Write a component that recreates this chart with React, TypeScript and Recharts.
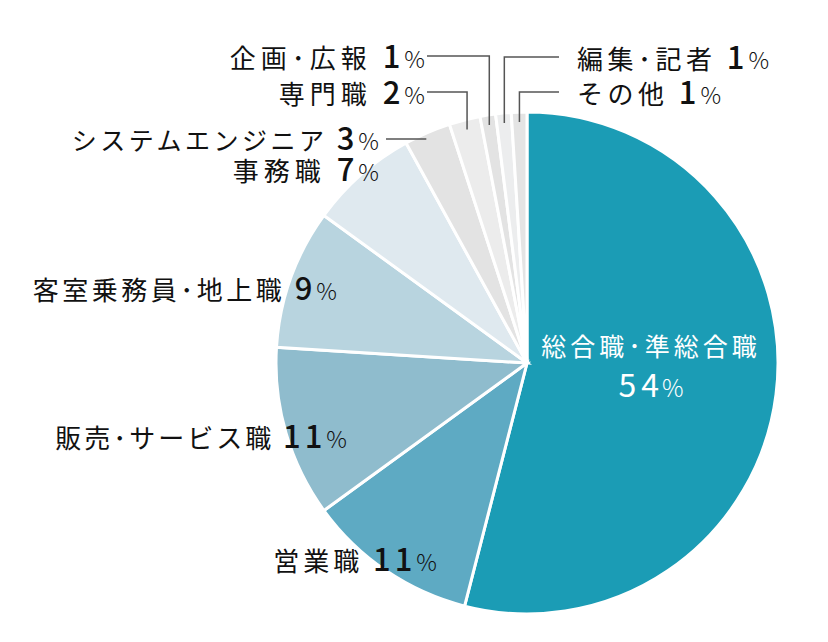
import React from "react";
import { PieChart, Pie, Cell } from "recharts";

const categories = [
  "総合職･準総合職",
  "営業職",
  "販売･サービス職",
  "客室乗務員･地上職",
  "事務職",
  "システムエンジニア",
  "専門職",
  "企画･広報",
  "編集･記者",
  "その他",
];
const values = [54, 11, 11, 9, 7, 3, 2, 1, 1, 1];
const colors = [
  "#1b9cb5",
  "#5eaac3",
  "#8fbccd",
  "#b8d4df",
  "#dfe9ef",
  "#e3e3e3",
  "#ececec",
  "#e3e3e3",
  "#ecedee",
  "#e4e4e4",
];

const data = categories.map((name, i) => ({ name, value: values[i] }));

type Layout = {
  anchor: "start" | "end" | "middle";
  x: number;
  y: number;
  fs: number;
  ls: number;
  leader?: { kind: "h" | "hv"; x0: number; y0: number };
};
const layout: Layout[] = [
  { anchor: "middle", x: 651, y: 356, fs: 25, ls: 4 },
  { anchor: "end", x: 437, y: 571, fs: 26, ls: 4 },
  { anchor: "end", x: 347, y: 448, fs: 26, ls: 3 },
  { anchor: "end", x: 337, y: 300, fs: 26, ls: 3.5 },
  { anchor: "end", x: 379, y: 181, fs: 26, ls: 5 },
  { anchor: "end", x: 379, y: 150, fs: 25, ls: 3.5, leader: { kind: "h", x0: 386, y0: 139 } },
  { anchor: "end", x: 425, y: 104, fs: 26, ls: 5, leader: { kind: "hv", x0: 427, y0: 92 } },
  { anchor: "end", x: 425, y: 68, fs: 26, ls: 5, leader: { kind: "hv", x0: 427, y0: 56 } },
  { anchor: "start", x: 577, y: 69, fs: 26, ls: 4.5, leader: { kind: "hv", x0: 559, y0: 57 } },
  { anchor: "start", x: 577, y: 104, fs: 26, ls: 4.5, leader: { kind: "hv", x0: 559, y0: 92 } },
];

const RAD = Math.PI / 180;
const FONT = "'Noto Sans CJK JP', 'Noto Sans', sans-serif";

const renderLabel = (props: any) => {
  const { cx, cy, midAngle, outerRadius, index } = props;
  const l = layout[index];
  const name = categories[index];
  const v = values[index];
  if (index === 0) {
    return (
      <g key={`lab-${index}`}>
        <text x={l.x} y={l.y} textAnchor="middle" fill="#fff" fontSize={l.fs} letterSpacing={l.ls} fontFamily={FONT}>
          {name}
        </text>
        <text x={l.x} y={l.y + 41} textAnchor="middle" fill="#fff" fontFamily={FONT}>
          <tspan fontSize={32} letterSpacing={5}>{v}</tspan>
          <tspan fontSize={24} fontWeight={300} dx={-2}>%</tspan>
        </text>
      </g>
    );
  }
  let leader: React.ReactNode = null;
  if (l.leader) {
    const cos = Math.cos(-midAngle * RAD);
    const sin = Math.sin(-midAngle * RAD);
    if (l.leader.kind === "h") {
      const ex = cx + outerRadius * cos - 1;
      leader = <line x1={l.leader.x0} y1={l.leader.y0} x2={ex} y2={l.leader.y0} stroke="#555" strokeWidth={1.5} />;
    } else {
      const px = cx + (outerRadius - 10) * cos;
      const py = cy + (outerRadius - 10) * sin;
      leader = (
        <polyline
          points={`${l.leader.x0},${l.leader.y0} ${px},${l.leader.y0} ${px},${py}`}
          fill="none"
          stroke="#555"
          strokeWidth={1.5}
        />
      );
    }
  }
  return (
    <g key={`lab-${index}`}>
      {leader}
      <text x={l.x} y={l.y} textAnchor={l.anchor} fill="#111" fontFamily={FONT}>
        <tspan fontSize={l.fs} letterSpacing={l.ls}>{name} </tspan>
        <tspan fontSize={31} fontWeight={500} letterSpacing={4}>{v}</tspan>
        <tspan fontSize={23} fontWeight={300}>%</tspan>
      </text>
    </g>
  );
};

export default function App() {
  return (
    <div style={{ position: "absolute", left: 0, top: 0, width: 828, height: 642, background: "#fff" }}>
      <PieChart width={828} height={642} margin={{ top: 0, right: 0, bottom: 0, left: 0 }}>
        <Pie
          data={data}
          dataKey="value"
          nameKey="name"
          cx={527}
          cy={363}
          outerRadius={251}
          startAngle={90}
          endAngle={-270}
          stroke="#fff"
          strokeWidth={3}
          label={renderLabel}
          labelLine={false}
          isAnimationActive={false}
        >
          {data.map((d, i) => (
            <Cell key={d.name} fill={colors[i]} />
          ))}
        </Pie>
      </PieChart>
    </div>
  );
}
